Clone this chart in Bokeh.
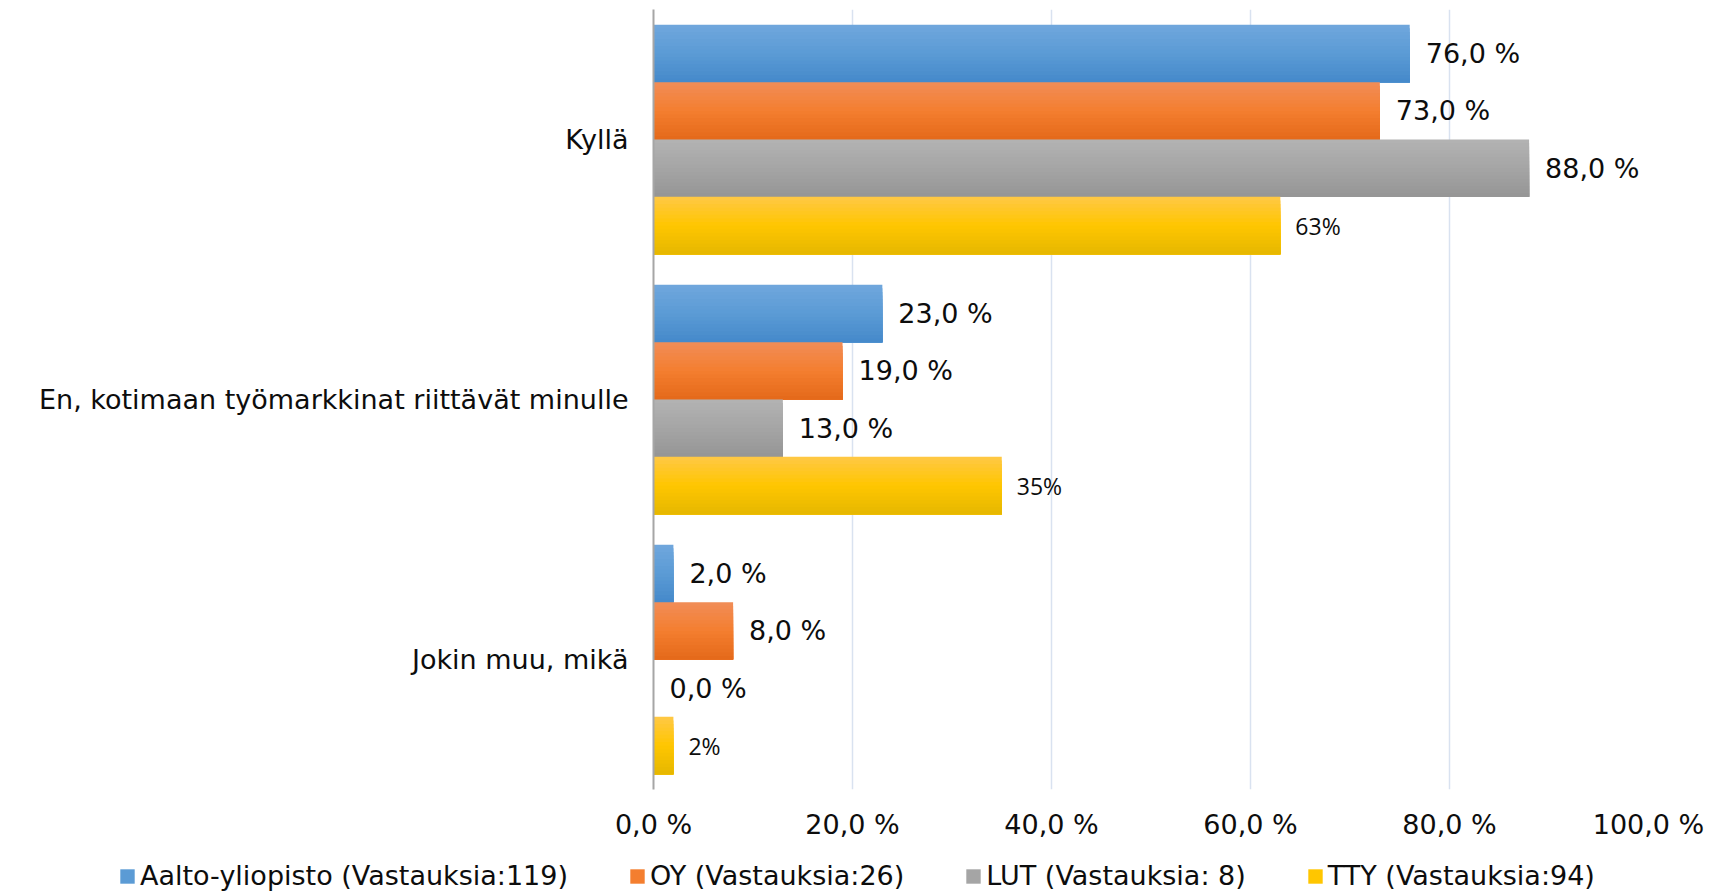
from bokeh.plotting import figure
from bokeh.layouts import column
from bokeh.models import (FactorRange, FixedTicker, CustomJSTickFormatter, Legend,
                          LegendItem, ColumnDataSource, Range1d)
from bokeh.transform import dodge
from bokeh.core.properties import value
from bokeh.embed import file_html
from bokeh.resources import INLINE

# ---------------- data ----------------
categories = ["Kyllä", "En, kotimaan työmarkkinat riittävät minulle", "Jokin muu, mikä"]
series_names = ["Aalto-yliopisto (Vastauksia:119)", "OY (Vastauksia:26)",
                "LUT (Vastauksia: 8)", "TTY (Vastauksia:94)"]
aalto = [76.0, 23.0, 2.0]
oy = [73.0, 19.0, 8.0]
lut = [88.0, 13.0, 0.0]
tty = [63.0, 35.0, 2.0]
x_ticks = [0, 20, 40, 60, 80, 100]

# ---------------- style ----------------
# (top, middle, bottom) colours of each bar's vertical gradient
grad = [("#70A7DD", "#5B9BD5", "#4589CA"),
        ("#F18D58", "#F47E2F", "#E4691A"),
        ("#B3B3B3", "#A5A5A5", "#959595"),
        ("#FFC846", "#FFC600", "#E5B700")]
offsets = [0.331, 0.110, -0.110, -0.331]
bar_h = 0.2207
N_LAYERS = 16

FONT = "DejaVu Sans"
FS = "27px"
TXT = "#0D0D0D"


def hex2rgb(h):
    return tuple(int(h[i:i + 2], 16) for i in (1, 3, 5))


def mix(c1, c2, t):
    a, b = hex2rgb(c1), hex2rgb(c2)
    return "#%02X%02X%02X" % tuple(round(x + (y - x) * t) for x, y in zip(a, b))


def grad_color(g, t):
    # t: 0 at top, 1 at bottom
    if t < 0.5:
        return mix(g[0], g[1], t / 0.5)
    return mix(g[1], g[2], (t - 0.5) / 0.5)


p = figure(width=1711, height=847, output_backend="svg", toolbar_location=None,
           y_range=FactorRange(factors=list(reversed(categories))),
           x_range=(0, 100), min_border_left=653, min_border_right=63,
           min_border_top=9, min_border_bottom=58)
p.outline_line_color = None
p.background_fill_color = "white"

all_vals = [aalto, oy, lut, tty]
for i, (vals, g, off) in enumerate(zip(all_vals, grad, offsets)):
    if i < 3:
        labels = [("%.1f %%" % v).replace(".", ",") for v in vals]
    else:
        labels = ["%.0f%%" % v for v in vals]
    src = ColumnDataSource(dict(cat=categories, val=vals, lab=labels))
    sh = bar_h / N_LAYERS
    # nested layers: each starts lower and reaches down to the bar's bottom,
    # giving a top-to-bottom gradient without seams
    for k in range(N_LAYERS):
        c = grad_color(g, (k + 0.5) / N_LAYERS)
        p.hbar(y=dodge("cat", off - k * sh / 2, range=p.y_range), right="val", left=0,
               height=bar_h - k * sh, source=src, fill_color=c, line_color=None)
    if i < 3:
        p.text(x="val", y=dodge("cat", off, range=p.y_range), text="lab", source=src,
               x_offset=16, text_baseline="middle", text_align="left",
               text_font=value(FONT), text_font_size=FS, text_color=TXT)
    else:
        p.text(x="val", y=dodge("cat", off, range=p.y_range), text="lab", source=src,
               x_offset=15, text_baseline="middle", text_align="left",
               text_font=value("Open Sans"), text_font_size="23px", text_color=TXT)

# axes
p.xaxis.ticker = FixedTicker(ticks=x_ticks)
p.xaxis.formatter = CustomJSTickFormatter(code="return tick.toFixed(1).replace('.', ',') + ' %';")
p.xaxis.axis_line_color = None
p.xaxis.major_tick_line_color = None
p.xaxis.minor_tick_line_color = None
p.xaxis.major_tick_in = 0
p.xaxis.major_tick_out = 0
p.xaxis.major_label_standoff = 19
p.xaxis.major_label_text_font = FONT
p.xaxis.major_label_text_font_size = FS
p.xaxis.major_label_text_color = TXT

p.yaxis.axis_line_color = "#A6A6A6"
p.yaxis.axis_line_width = 2
p.yaxis.major_tick_line_color = None
p.yaxis.minor_tick_line_color = None
p.yaxis.major_tick_in = 0
p.yaxis.major_tick_out = 0
p.yaxis.major_label_standoff = 25
p.yaxis.major_label_text_font = FONT
p.yaxis.major_label_text_font_size = FS
p.yaxis.major_label_text_color = TXT

p.ygrid.grid_line_color = None
p.xgrid.ticker = FixedTicker(ticks=x_ticks[1:])
p.xgrid.grid_line_color = "#D9E2F0"
p.xgrid.grid_line_width = 1.5

# ---------------- legend strip ----------------
lg = figure(width=1711, height=44, output_backend="svg", toolbar_location=None,
            x_axis_type=None, y_axis_type=None, x_range=Range1d(0, 1), y_range=Range1d(0, 1),
            min_border_left=0, min_border_right=0, min_border_top=0, min_border_bottom=0)
lg.outline_line_color = None
lg.xgrid.grid_line_color = None
lg.ygrid.grid_line_color = None

for f in (p, lg):
    try:
        f.frame_align = False
    except Exception:
        pass

items = []
for name, g in zip(series_names, grad):
    # legend proxy, kept outside the visible range of the strip
    r = lg.hbar(y=[-5], right=[0], left=[0], height=0.5, fill_color=g[1], line_color=None)
    items.append(LegendItem(label=name, renderers=[r]))
legend = Legend(items=items, location=(118, 0), orientation="horizontal", padding=0, margin=0,
                spacing=60, glyph_width=18, glyph_height=18, label_standoff=4,
                label_text_font=FONT, label_text_font_size=FS,
                label_text_color=TXT, border_line_color=None,
                background_fill_alpha=0)
lg.add_layout(legend, "center")

layout = column(p, lg, spacing=0)
open("out.html", "w").write(file_html(layout, INLINE))
